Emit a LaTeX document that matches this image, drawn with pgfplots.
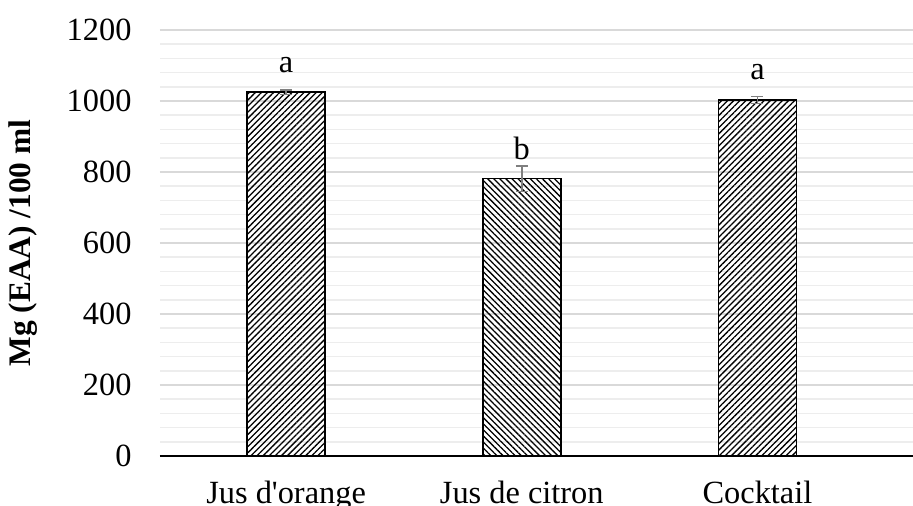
\documentclass[border=0pt]{standalone}
\usepackage{pgfplots}
\pgfplotsset{compat=1.18}
\usetikzlibrary{patterns.meta}
\usepackage{fontspec}
\setmainfont{Liberation Serif}
\definecolor{majgrid}{HTML}{D9D9D9}
\definecolor{mingrid}{HTML}{EDEDED}
\definecolor{errc}{HTML}{7F7F7F}
\begin{document}
\begin{tikzpicture}
\begin{axis}[
  scale only axis,
  width=753bp, height=426bp,
  xmin=-0.535, xmax=2.66,
  ymin=0, ymax=1200,
  ytick={0,200,...,1200},
  minor y tick num=4,
  ymajorgrids, yminorgrids,
  major grid style={majgrid, line width=1.5bp},
  minor grid style={mingrid, line width=1.5bp},
  xtick={0,1,2},
  xticklabels={Jus d\textquotesingle orange, Jus de citron, Cocktail},
  axis x line*=bottom,
  axis y line*=left,
  y axis line style={draw=none},
  x axis line style={black, line width=1.5bp, -},
  major tick length=0pt, minor tick length=0pt,
  tick style={draw=none},
  ticklabel style={font=\fontsize{32.5}{38}\selectfont},
  /pgf/number format/assume math mode=true,
  /pgf/number format/1000 sep={},
  yticklabel style={xshift=-25bp},
  xticklabel style={yshift=-22bp},
  ylabel={\textbf{Mg (EAA) /100 ml}},
  ylabel style={font=\fontsize{31.5}{36}\selectfont, yshift=22bp},
  ybar, bar width=78bp, bar shift=0pt,
  clip=false,
]
\addplot[draw=black, line width=1.5bp, pattern={Lines[angle=45, distance=4.3bp, line width=1.3bp]},
  error bars/.cd, y dir=both, y explicit,
  error bar style={errc, line width=1.5bp}, error mark options={errc, line width=1.5bp, mark size=6bp, rotate=90}]
  coordinates {(0,1025) +- (0,6) (2,1003) +- (0,10)};
\addplot[draw=black, line width=1.5bp, pattern={Lines[angle=-45, distance=4.3bp, line width=1.3bp]},
  error bars/.cd, y dir=both, y explicit,
  error bar style={errc, line width=1.5bp}, error mark options={errc, line width=1.5bp, mark size=6bp, rotate=90}]
  coordinates {(1,781) +- (0,36)};
\node[anchor=base, font=\fontsize{32.5}{38}\selectfont] at (axis cs:0,1080) {a};
\node[anchor=base, font=\fontsize{32.5}{38}\selectfont] at (axis cs:1,834) {b};
\node[anchor=base, font=\fontsize{32.5}{38}\selectfont] at (axis cs:2,1060) {a};
\end{axis}
\pgfresetboundingbox
\path (current axis.south west) ++(-160bp,-50bp) rectangle ++(913bp,506bp);
\end{tikzpicture}
\end{document}
